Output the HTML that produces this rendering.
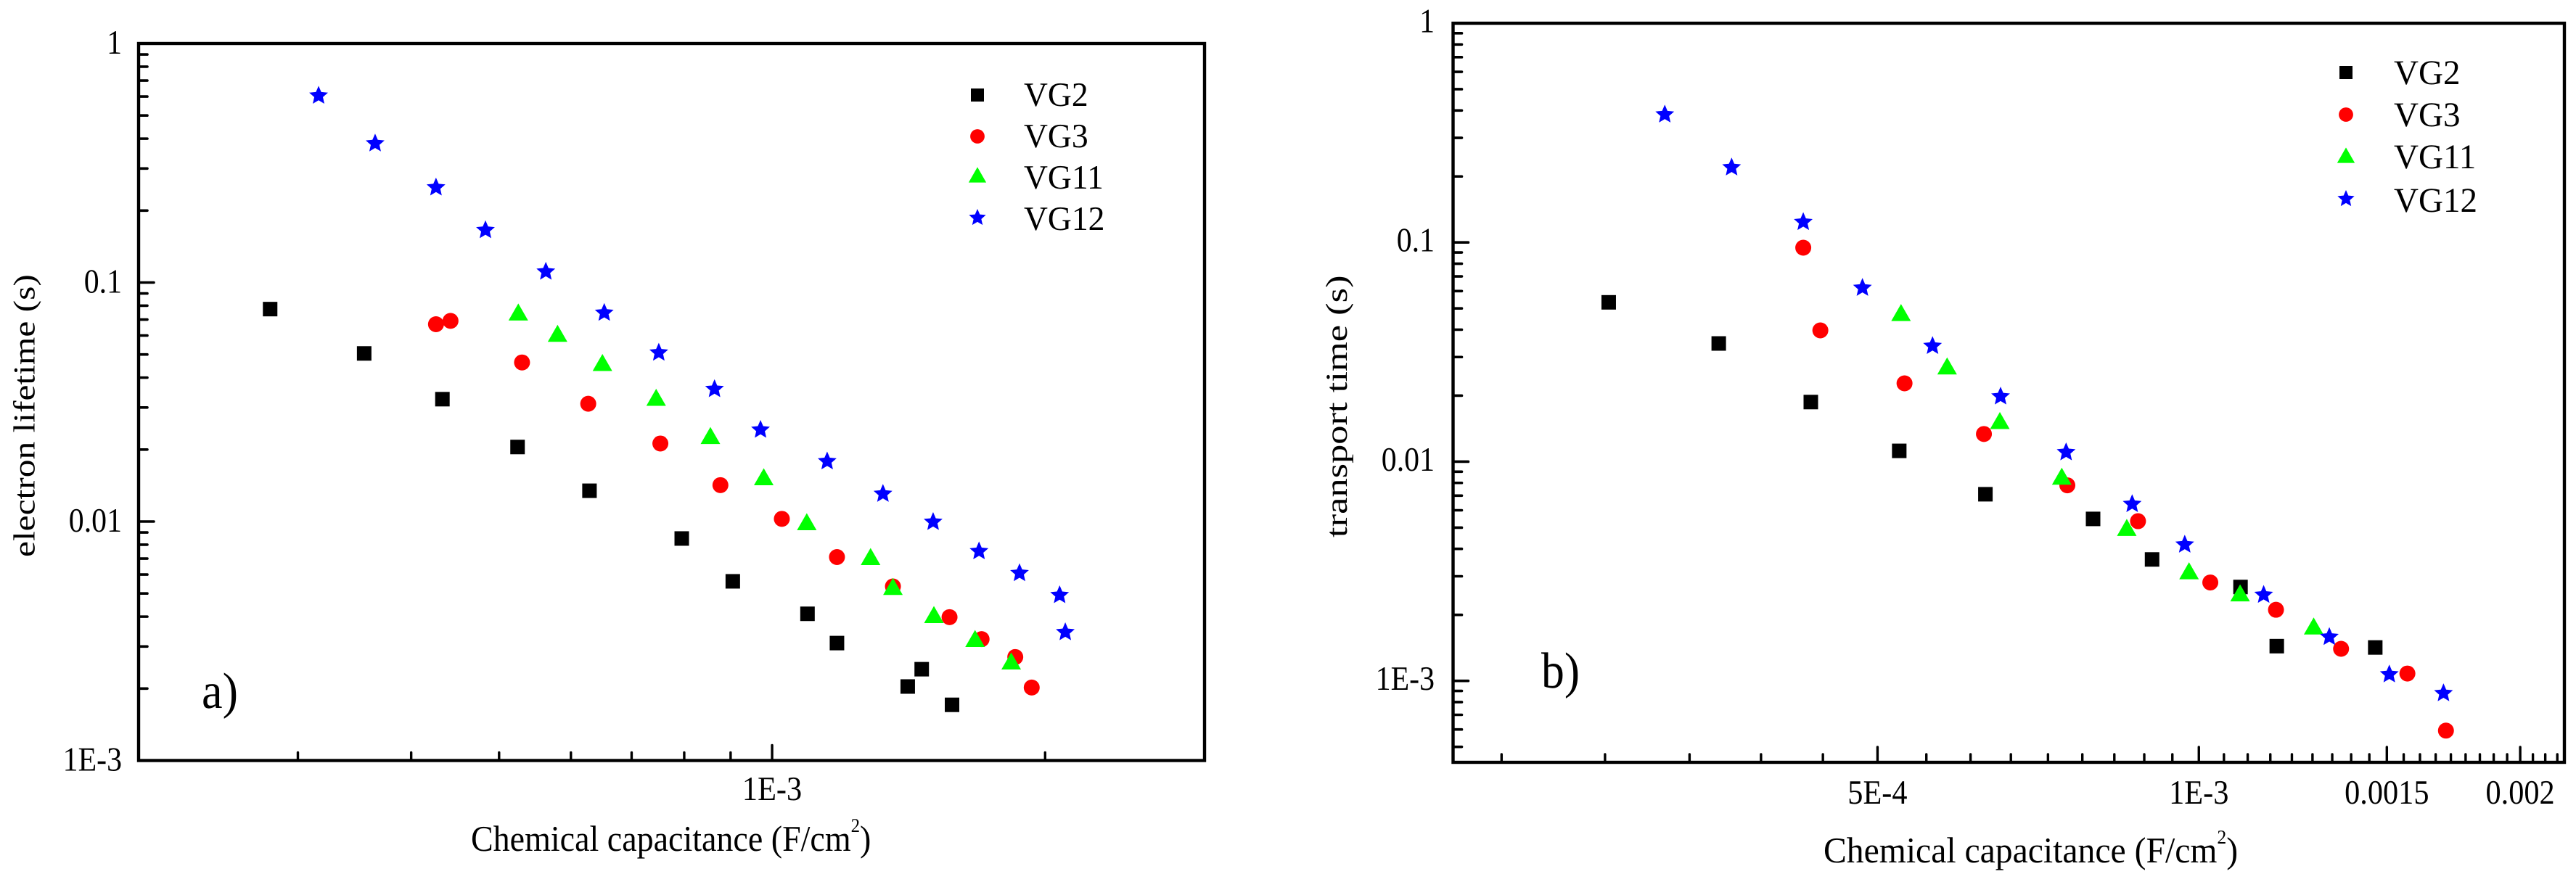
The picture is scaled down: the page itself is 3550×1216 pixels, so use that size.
<!DOCTYPE html>
<html lang="en">
<head>
<meta charset="utf-8">
<title>Electron lifetime and transport time vs chemical capacitance</title>
<style>
html,body{margin:0;padding:0;background:#fff;}
svg{display:block;}
text{font-family:"Liberation Serif",serif;fill:#000;text-rendering:geometricPrecision;}
</style>
</head>
<body>
<svg id="figure" xmlns="http://www.w3.org/2000/svg" width="3550" height="1216" viewBox="0 0 3550 1216">
  <rect x="0" y="0" width="3550" height="1216" fill="#fff"/>
  <g id="panel-a">
    <g id="a-marks"></g>
    <rect x="191" y="60" width="1469" height="988.5" fill="none" stroke="#000" stroke-width="4.4"/>
    <g id="a-ticks"></g>
    <text font-size="42" transform="translate(47.5,768) rotate(-90) scale(1.177,1)">electron lifetime (s)</text>
    <text font-size="50" transform="translate(649,1173) scale(.92,1)">Chemical capacitance (F/cm<tspan font-size="27" dy="-26">2</tspan><tspan dy="26">)</tspan></text>
    <text font-size="70" transform="translate(278,976) scale(.92,1)">a)</text>
    <g id="a-legend"></g>
  </g>
  <g id="panel-b">
    <g id="b-marks"></g>
    <rect x="2002.5" y="32" width="1531.5" height="1019" fill="none" stroke="#000" stroke-width="4.4"/>
    <g id="b-ticks"></g>
    <text font-size="42" transform="translate(1856,741) rotate(-90) scale(1.25,1)">transport time (s)</text>
    <text font-size="50" transform="translate(2513,1189) scale(.953,1)">Chemical capacitance (F/cm<tspan font-size="27" dy="-26">2</tspan><tspan dy="26">)</tspan></text>
    <text font-size="70" transform="translate(2124,948) scale(.91,1)">b)</text>
    <g id="b-legend"></g>
  </g>
</svg>
<script>
// Panel a data
var seriesNames = ["VG2", "VG3", "VG11", "VG12"];
var aVg2X = [2.796e-4, 3.55e-4, 4.33e-4, 5.24e-4, 6.29e-4, 7.95e-4, 9.05e-4, 1.094e-3, 1.179e-3, 1.411e-3, 1.462e-3, 1.579e-3];
var aVg2Y = [0.0774, 0.0505, 0.0325, 0.0205, 0.01345, 0.00849, 0.00562, 0.00411, 0.0031, 0.00204, 0.00241, 0.00171];
var aVg3X = [4.26e-4, 4.42e-4, 5.30e-4, 6.27e-4, 7.53e-4, 8.77e-4, 1.025e-3, 1.179e-3, 1.359e-3, 1.569e-3, 1.702e-3, 1.854e-3, 1.933e-3];
var aVg3Y = [0.0669, 0.0691, 0.0463, 0.0311, 0.0212, 0.0142, 0.01026, 0.0071, 0.00535, 0.00398, 0.00322, 0.00271, 0.00202];
var aVg11X = [5.25e-4, 5.80e-4, 6.50e-4, 7.45e-4, 8.55e-4, 9.79e-4, 1.092e-3, 1.284e-3, 1.359e-3, 1.508e-3, 1.674e-3, 1.835e-3];
var aVg11Y = [0.0753, 0.0613, 0.0463, 0.0331, 0.0229, 0.0154, 0.00998, 0.00714, 0.00535, 0.00408, 0.00324, 0.00261];
var aVg12X = [3.162e-4, 3.65e-4, 4.26e-4, 4.83e-4, 5.63e-4, 6.53e-4, 7.50e-4, 8.64e-4, 9.71e-4, 1.150e-3, 1.325e-3, 1.505e-3, 1.691e-3, 1.874e-3, 2.075e-3, 2.105e-3];
var aVg12Y = [0.610, 0.385, 0.252, 0.167, 0.1119, 0.0753, 0.0513, 0.0361, 0.0244, 0.0180, 0.01316, 0.01004, 0.00757, 0.00613, 0.00496, 0.00347];

// Panel b data
var bVg2X = [2.80e-4, 3.55e-4, 4.33e-4, 5.24e-4, 6.31e-4, 7.96e-4, 9.04e-4, 1.094e-3, 1.183e-3, 1.463e-3];
var bVg2Y = [0.0533, 0.0346, 0.0187, 0.0112, 0.0071, 0.00548, 0.00358, 0.00268, 0.00144, 0.00142];
var bVg3X = [4.26e-4, 4.42e-4, 5.30e-4, 6.29e-4, 7.53e-4, 8.77e-4, 1.025e-3, 1.181e-3, 1.359e-3, 1.568e-3, 1.704e-3];
var bVg3Y = [0.0946, 0.0397, 0.02276, 0.01337, 0.0078, 0.00535, 0.00281, 0.00211, 0.0014, 0.00108, 0.000593];
var bVg11X = [5.26e-4, 5.81e-4, 6.51e-4, 7.44e-4, 8.56e-4, 9.79e-4, 1.093e-3, 1.281e-3];
var bVg11Y = [0.0479, 0.02734, 0.0154, 0.00858, 0.00501, 0.00318, 0.00252, 0.00178];
var bVg12X = [3.16e-4, 3.65e-4, 4.26e-4, 4.84e-4, 5.63e-4, 6.52e-4, 7.51e-4, 8.66e-4, 9.70e-4, 1.150e-3, 1.325e-3, 1.508e-3, 1.695e-3];
var bVg12Y = [0.3867, 0.2218, 0.125, 0.0626, 0.0340, 0.02, 0.01113, 0.00646, 0.00422, 0.00249, 0.0016, 0.00108, 0.000886];

// Axis ticks and labels
var aXMajorTicks = [1e-3];
var aXMajorLabels = ["1E-3"];
var aXMinorTicks = [3e-4, 4e-4, 5e-4, 6e-4, 7e-4, 8e-4, 9e-4, 2e-3];
var bXMajorTicks = [5e-4, 1e-3, 1.5e-3, 2e-3];
var bXMajorLabels = ["5E-4", "1E-3", "0.0015", "0.002"];
var yMajorTicks = [1, 0.1, 0.01, 0.001];
var yMajorLabels = ["1", "0.1", "0.01", "1E-3"];

var SVGNS = "http://www.w3.org/2000/svg";

function make(tag, attrs, parent) {
  var node = document.createElementNS(SVGNS, tag);
  for (var k in attrs) { node.setAttribute(k, attrs[k]); }
  parent.appendChild(node);
  return node;
}

function logScale(d0, d1, r0, r1) {
  var l0 = Math.log10(d0), l1 = Math.log10(d1);
  return function (v) { return r0 + (Math.log10(v) - l0) / (l1 - l0) * (r1 - r0); };
}

function starPoints(cx, cy, R) {
  var pts = [];
  for (var i = 0; i < 10; i++) {
    var r = i % 2 === 0 ? R : R * 0.46;
    var a = -Math.PI / 2 + i * Math.PI / 5;
    pts.push((cx + r * Math.cos(a)).toFixed(2) + "," + (cy + r * Math.sin(a)).toFixed(2));
  }
  return pts.join(" ");
}

function drawMarker(kind, cx, cy, k, parent) {
  if (kind === 0) {
    var s = 20 * k;
    return make("rect", { x: cx - s / 2, y: cy - s / 2, width: s, height: s, fill: "#000" }, parent);
  }
  if (kind === 1) {
    return make("circle", { cx: cx, cy: cy, r: 11 * k, fill: "#f00" }, parent);
  }
  if (kind === 2) {
    var w = 27 * k / 2, h = 23.5 * k / 2;
    return make("polygon", { points: (cx - w) + "," + (cy + h) + " " + (cx + w) + "," + (cy + h) + " " + cx + "," + (cy - h), fill: "#0f0" }, parent);
  }
  return make("polygon", { points: starPoints(cx, cy + 1.2, 13.6 * k), fill: "#00f" }, parent);
}

function drawSeries(group, kind, xs, ys, sx, sy, seriesName) {
  for (var i = 0; i < xs.length; i++) {
    var mark = drawMarker(kind, sx(xs[i]), sy(ys[i]), 1, group);
    
    
  }
}

function xTick(group, x, yAxis, len) {
  var t = make("line", { x1: x, x2: x, y1: yAxis, y2: yAxis - len, stroke: "#000", "stroke-width": 3.4, "stroke-linecap": "round" }, group);
  
  
}

function yTick(group, y, xAxis, len) {
  var t = make("line", { x1: xAxis, x2: xAxis + len, y1: y, y2: y, stroke: "#000", "stroke-width": 3.6, "stroke-linecap": "round" }, group);
  
  
}

function drawYAxis(group, sy, xAxis, domainMin, labelRight, labelOffset) {
  for (var d = 0; d > -5; d--) {
    for (var m = 1; m <= 9; m++) {
      var v = m * Math.pow(10, d - 1);
      if (m === 1 || v < domainMin || v >= 1) { continue; }
      yTick(group, sy(v), xAxis, 12);
    }
  }
  for (var i = 0; i < yMajorTicks.length; i++) {
    if (i > 0) { yTick(group, sy(yMajorTicks[i]), xAxis, 21); }
    var lab = make("text", { "font-size": 47, "text-anchor": "end", transform: "translate(" + labelRight + "," + (sy(yMajorTicks[i]) + labelOffset) + ") scale(.89,1)" }, group);
    lab.textContent = yMajorLabels[i];
    
    
  }
}

function drawXLabels(group, ticks, labels, sx, baseline) {
  for (var i = 0; i < ticks.length; i++) {
    var lab = make("text", { "font-size": 47, "text-anchor": "middle", transform: "translate(" + sx(ticks[i]) + "," + baseline + ") scale(.9,1)" }, group);
    lab.textContent = labels[i];
    
    
  }
}

function drawLegend(group, markerX, textX, markerYs, baselines, sxText, size) {
  for (var i = 0; i < seriesNames.length; i++) {
    var sym = drawMarker(i, markerX, markerYs[i], 0.9, group);
    
    
    var lab = make("text", { "font-size": size, transform: "translate(" + textX + "," + baselines[i] + ") scale(" + sxText + ",1)" }, group);
    lab.textContent = seriesNames[i];
    
    
  }
}

// Panel a
var ax = logScale(2e-4, 3e-3, 190.4, 1660.4);
var ay = logScale(1e-3, 1, 1048.5, 60);
var aMarks = document.getElementById("a-marks");
drawSeries(aMarks, 0, aVg2X, aVg2Y, ax, ay, "vg2");
drawSeries(aMarks, 1, aVg3X, aVg3Y, ax, ay, "vg3");
drawSeries(aMarks, 2, aVg11X, aVg11Y, ax, ay, "vg11");
drawSeries(aMarks, 3, aVg12X, aVg12Y, ax, ay, "vg12");
var aTicks = document.getElementById("a-ticks");
aXMinorTicks.forEach(function (v) { xTick(aTicks, ax(v), 1048.5, 11); });
aXMajorTicks.forEach(function (v) { xTick(aTicks, ax(v), 1048.5, 21); });
drawXLabels(aTicks, aXMajorTicks, aXMajorLabels, ax, 1103);
drawYAxis(aTicks, ay, 191, 1e-3, 168, 14);
drawLegend(document.getElementById("a-legend"), 1347, 1411, [131, 188, 241, 299], [146, 203, 260, 317], 0.97, 47);

// Panel b
var bx = logScale(2e-4, 2.2e-3, 2002, 3534);
var by = logScale(4.25e-4, 1, 1051, 32);
var bMarks = document.getElementById("b-marks");
drawSeries(bMarks, 0, bVg2X, bVg2Y, bx, by, "vg2");
drawSeries(bMarks, 1, bVg3X, bVg3Y, bx, by, "vg3");
drawSeries(bMarks, 2, bVg11X, bVg11Y, bx, by, "vg11");
drawSeries(bMarks, 3, bVg12X, bVg12Y, bx, by, "vg12");
var bTicks = document.getElementById("b-ticks");
var step = 5e-4 / 9;
for (var n = -5; n <= 30; n++) {
  if (n % 9 === 0) { continue; }
  var tv = 5e-4 + n * step;
  if (tv > 2.19e-3) { continue; }
  xTick(bTicks, bx(tv), 1051, 11);
}
bXMajorTicks.forEach(function (v) { xTick(bTicks, bx(v), 1051, 21); });
drawXLabels(bTicks, bXMajorTicks, bXMajorLabels, bx, 1108);
drawYAxis(bTicks, by, 2002.5, 4.25e-4, 1977, 12.5);
drawLegend(document.getElementById("b-legend"), 3233, 3299, [100, 158, 214, 273], [116, 174, 232, 292], 0.98, 48);
</script>
</body>
</html>
